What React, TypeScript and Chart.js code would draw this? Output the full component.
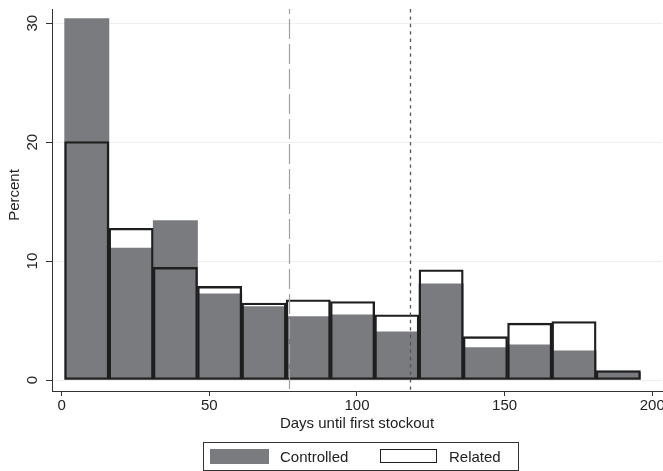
import React, { useEffect, useRef } from "react";
import { Chart, registerables } from "chart.js";

Chart.register(...registerables);

// Histogram bins (start of each bin, days), width 15
const binStarts = [1, 16, 31, 46, 61, 76, 91, 106, 121, 136, 151, 166, 181];
const binWidth = 15;
const controlled = [30.4, 11.1, 13.4, 7.25, 6.18, 5.34, 5.48, 4.05, 8.09, 2.72, 2.95, 2.45, 0.62];
const related = [20.05, 12.76, 9.47, 7.87, 6.47, 6.75, 6.6, 5.48, 9.27, 3.65, 4.78, 4.92, 0.79];
const xTicks = [0, 50, 100, 150, 200];
const yTicks = [0, 10, 20, 30];
const dashedLineX = [77];
const dottedLineX = [118.1];

const FONT = "'Liberation Sans', Arial, Helvetica, sans-serif";

export default function App() {
  const ref = useRef<HTMLCanvasElement | null>(null);

  useEffect(() => {
    const canvas = ref.current;
    if (!canvas) return;

    const overlay = {
      id: "overlay",
      afterDatasetsDraw(chart: any) {
        const { ctx, chartArea, scales } = chart;
        const xs = scales.x;
        ctx.save();
        ctx.strokeStyle = "#a0a0a0";
        ctx.lineWidth = 1.2;
        ctx.setLineDash([20, 5]);
        ctx.lineDashOffset = 15;
        dashedLineX.forEach((v) => {
          const px = Math.round(xs.getPixelForValue(v)) + 0.5;
          ctx.beginPath();
          ctx.moveTo(px, chartArea.top);
          ctx.lineTo(px, chartArea.bottom);
          ctx.stroke();
        });
        ctx.strokeStyle = "#555555";
        ctx.lineWidth = 1.3;
        ctx.setLineDash([3.4, 4]);
        ctx.lineDashOffset = 0;
        dottedLineX.forEach((v) => {
          const px = Math.round(xs.getPixelForValue(v)) + 0.5;
          ctx.beginPath();
          ctx.moveTo(px, chartArea.top);
          ctx.lineTo(px, chartArea.bottom);
          ctx.stroke();
        });
        ctx.restore();
      },
      afterDraw(chart: any) {
        const { ctx, scales } = chart;
        const ys = scales.y;
        const xs = scales.x;
        ctx.save();
        ctx.fillStyle = "#222";
        ctx.font = `15px ${FONT}`;
        ctx.textAlign = "center";
        ctx.textBaseline = "middle";
        yTicks.forEach((v) => {
          const py = ys.getPixelForValue(v);
          ctx.save();
          ctx.translate(33, py);
          ctx.rotate(-Math.PI / 2);
          ctx.fillText(String(v), 0, 0);
          ctx.restore();
        });
        xTicks.forEach((v) => {
          ctx.fillText(String(v), xs.getPixelForValue(v), 406);
        });
        ctx.save();
        ctx.translate(15, 195);
        ctx.rotate(-Math.PI / 2);
        ctx.fillText("Percent", 0, 0);
        ctx.restore();
        ctx.restore();
      },
    };

    const chart = new Chart(canvas, {
      type: "bar",
      data: {
        datasets: [
          {
            label: "Related",
            data: related.map((v, i) => ({ x: binStarts[i] + binWidth / 2, y: v })),
            backgroundColor: "rgba(0,0,0,0)",
            borderColor: "#1e1e1e",
            borderWidth: 1.7,
            borderSkipped: false,
            grouped: false,
            order: 1,
            barPercentage: 1,
            categoryPercentage: 1,
          } as any,
          {
            label: "Controlled",
            data: controlled.map((v, i) => ({ x: binStarts[i] + binWidth / 2, y: v })),
            backgroundColor: "#7a7b7f",
            borderWidth: 0,
            grouped: false,
            order: 2,
            barPercentage: 1,
            categoryPercentage: 1,
          } as any,
        ],
      },
      options: {
        responsive: false,
        animation: false,
        layout: { padding: { top: 9, right: 1, left: 0, bottom: 0 } },
        plugins: {
          legend: { display: false },
          tooltip: { enabled: false },
        },
        scales: {
          x: {
            type: "linear",
            offset: false,
            min: -3.28,
            max: 203.3,
            afterBuildTicks: (s: any) => {
              s.ticks = xTicks.map((v) => ({ value: v }));
            },
            afterFit: (s: any) => {
              s.height = 80;
            },
            grid: {
              offset: false,
              drawOnChartArea: false,
              tickColor: "#333",
              tickLength: 5,
              tickWidth: 1,
            },
            border: { display: true, color: "#333", width: 1 },
            ticks: { display: false },
            title: {
              display: true,
              text: "Days until first stockout",
              color: "#222",
              font: { family: FONT, size: 15 },
              padding: { top: 0, bottom: 38 },
            },
          },
          y: {
            type: "linear",
            min: -0.925,
            max: 31.2,
            afterBuildTicks: (s: any) => {
              s.ticks = yTicks.map((v) => ({ value: v }));
            },
            afterFit: (s: any) => {
              s.width = 52;
            },
            grid: {
              color: "#eeeeee",
              tickColor: "#333",
              tickLength: 6,
              lineWidth: 1,
            },
            border: { display: true, color: "#333", width: 1 },
            ticks: { display: false },
          },
        },
      },
      plugins: [overlay],
    } as any);

    return () => chart.destroy();
  }, []);

  return (
    <div style={{ position: "absolute", left: 0, top: 0, width: 663, height: 471, background: "#fff" }}>
      <canvas ref={ref} width={663} height={471} style={{ width: 663, height: 471, display: "block" }} />
      <div
        style={{
          position: "absolute",
          left: 203,
          top: 442,
          width: 314,
          height: 27,
          border: "1px solid #333",
          boxSizing: "content-box",
          fontFamily: FONT,
          fontSize: 15,
          color: "#222",
        }}
      >
        <div style={{ position: "absolute", left: 6, top: 6, width: 59, height: 15, background: "#7a7b7f" }} />
        <div style={{ position: "absolute", left: 76, top: 5, lineHeight: "17px" }}>Controlled</div>
        <div
          style={{
            position: "absolute",
            left: 176,
            top: 6,
            width: 55,
            height: 12,
            border: "1.5px solid #1e1e1e",
            background: "#fff",
          }}
        />
        <div style={{ position: "absolute", left: 245, top: 5, lineHeight: "17px" }}>Related</div>
      </div>
    </div>
  );
}
